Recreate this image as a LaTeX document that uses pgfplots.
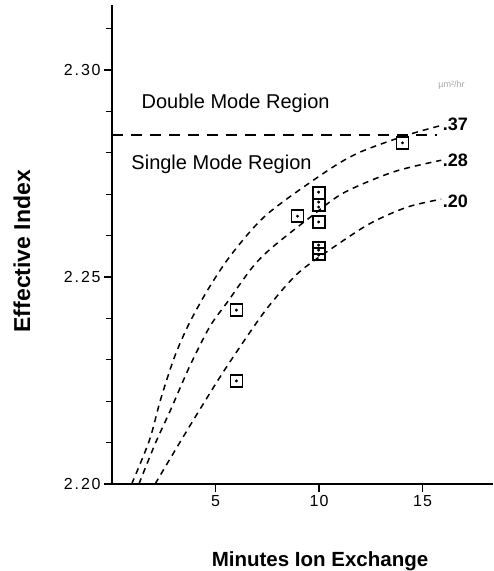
\documentclass[border=0pt]{standalone}
\usepackage{pgfplots}
\pgfplotsset{compat=1.18}
\usepackage{fontspec}
\setmainfont{Liberation Sans}
\begin{document}
\begin{tikzpicture}
\begin{axis}[
  scale only axis, width=381pt, height=479pt,
  xmin=0, xmax=18.4, ymin=2.20, ymax=2.3157,
  axis x line*=bottom, axis y line*=left,
  axis line style={line width=1.6pt,-},
  xtick={5,10,15},
  ytick={2.20,2.25,2.30},
  yticklabels={2\kern2pt.\kern2pt2\kern1.5pt0, 2\kern2pt.\kern2pt2\kern1.5pt5, 2\kern2pt.\kern2pt3\kern1.5pt0},
  xticklabels={5,1\kern1pt0,1\kern1pt5},
  minor ytick={2.21,2.22,2.23,2.24,2.26,2.27,2.28,2.29,2.31},
  tick align=outside, major tick length=8pt, minor tick length=6pt,
  every tick/.style={line width=1.2pt, black},
  ticklabel style={font=\fontsize{16}{18}\selectfont},
  xlabel={\bfseries Minutes Ion Exchange},
  every axis x label/.style={at={(rel axis cs:0.546,0)}, anchor=north, inner sep=0pt, yshift=-67pt, font=\fontsize{20.5}{22}\selectfont},
  ylabel={\bfseries Effective Index},
  every axis y label/.style={at={(rel axis cs:0,0.486)}, xshift=-90pt, rotate=90, anchor=center, inner sep=0pt, font=\fontsize{23}{25}\selectfont},
  clip=false,
]
% bounding box helper
\path (rel axis cs:0,0) ++(-112pt,-87pt) coordinate (bl);
\path (rel axis cs:1,1) ++(0pt,5pt) coordinate (tr);

% mode boundary
\addplot[black, line width=1.5pt, dash pattern=on 11pt off 8pt] coordinates {(0,2.2843) (15.7,2.2843)};

% curves
\addplot[black, line width=1.5pt, dash pattern=on 6pt off 5pt, smooth, tension=0.5] coordinates {
(0.95,2.2000) (1.81,2.2106) (2.34,2.2203) (3.02,2.2307) (3.74,2.2389) (4.71,2.2476) (5.82,2.2558) (7.5,2.2652) (10.41,2.2757) (12.0,2.2802) (14.27,2.2843) (15.97,2.2867)};
\addplot[black, line width=1.5pt, dash pattern=on 6pt off 5pt, smooth, tension=0.5] coordinates {
(1.3,2.2000) (2.1,2.2099) (2.83,2.2179) (3.74,2.2283) (4.71,2.2379) (5.58,2.2440) (6.79,2.2524) (7.75,2.2572) (9.59,2.2645) (11.18,2.2703) (13.6,2.2754) (15.9,2.2782)};
\addplot[black, line width=1.5pt, dash pattern=on 6pt off 5pt, smooth, tension=0.5] coordinates {
(2.08,2.2000) (3.26,2.2099) (4.23,2.2179) (5.34,2.2268) (6.64,2.2365) (7.61,2.2432) (9.0,2.2510) (10.7,2.2572) (12.49,2.2630) (14.27,2.2669) (15.9,2.2688)};

% data squares
\addplot[only marks, mark=square, mark size=6pt, mark options={line width=1.8pt, black}] coordinates {
(14.03,2.2824) (6.01,2.2420) (6.01,2.2249) (8.96,2.2647) (9.98,2.2703) (9.98,2.2674) (9.98,2.2633) (9.98,2.2571) (9.98,2.2555)};
% dots inside
\addplot[only marks, mark=*, mark size=1.3pt, black] coordinates {
(14.03,2.2824) (6.01,2.2420) (6.01,2.2249) (8.96,2.2647) (9.98,2.2705) (9.98,2.2681) (9.98,2.2669) (9.98,2.2633) (9.98,2.2577) (9.98,2.2565) (9.98,2.2553)};

% texts
\node[font=\fontsize{20}{22}\selectfont] at (axis cs:5.97,2.2919) {Double Mode Region};
\node[font=\fontsize{20}{22}\selectfont] at (axis cs:5.29,2.2773) {Single Mode Region};
\node[anchor=west, inner sep=0pt, font=\bfseries\fontsize{18}{20}\selectfont] at (axis cs:15.97,2.2870) {.37};
\node[anchor=west, inner sep=0pt, font=\bfseries\fontsize{18}{20}\selectfont] at (axis cs:15.97,2.2781) {.28};
\node[anchor=west, inner sep=0pt, font=\bfseries\fontsize{18}{20}\selectfont] at (axis cs:15.97,2.2684) {.20};
\node[text=black!35, font=\fontsize{9}{10}\selectfont] at (axis cs:16.4,2.2964) {µm²/hr};
\end{axis}
\path[use as bounding box] (bl) rectangle (tr);
\end{tikzpicture}
\end{document}
